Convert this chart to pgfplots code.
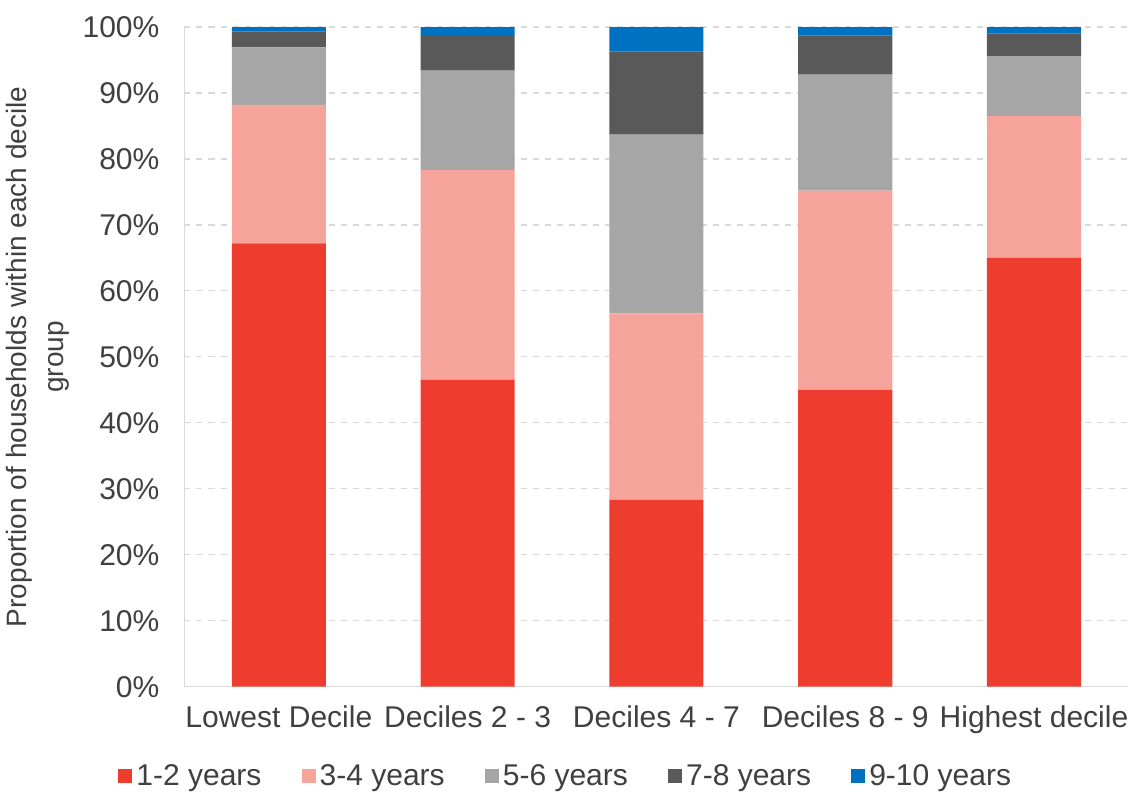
\documentclass[border=0pt]{standalone}
\usepackage{pgfplots}
\pgfplotsset{compat=1.18}
\usepackage{fontspec}
\setmainfont{Liberation Sans}
\definecolor{c1}{HTML}{EE3D2E}
\definecolor{c2}{HTML}{F6A49B}
\definecolor{c3}{HTML}{A6A6A6}
\definecolor{c4}{HTML}{595959}
\definecolor{c5}{HTML}{0070C0}
\definecolor{txt}{HTML}{404040}
\begin{document}
\begin{tikzpicture}
\begin{axis}[
  scale only axis,
  width=471.5pt, height=329.5pt,
  ybar stacked, bar width=47pt,
  xmin=-0.5, xmax=4.5, ymin=0, ymax=100,
  xtick={0,1,2,3,4},
  xticklabels={Lowest Decile,Deciles 2 - 3,Deciles 4 - 7,Deciles 8 - 9,Highest decile},
  ytick={0,10,...,100},
  yticklabel={\pgfmathprintnumber{\tick}\%},
  /pgf/number format/assume math mode=true,
  tick style={draw=none},
  ymajorgrids, grid style={dashed, color=black!15, line width=0.6pt},
  axis line style={draw=black!15, line width=0.8pt},
  axis x line*=bottom, axis y line*=left,
  ticklabel style={font=\fontsize{15}{17}\selectfont, text=txt},
  xticklabel style={yshift=-6pt},
  yticklabel style={xshift=-9pt},
  ylabel={Proportion of households within each decile\\group},
  ylabel style={align=center, font=\fontsize{14}{18}\selectfont, text=txt, yshift=0pt},
  legend style={at={(0.405,-0.105)}, anchor=north, draw=none, legend columns=5,
    font=\fontsize{15}{17}\selectfont, text=txt,
    /tikz/every even column/.append style={column sep=18pt}},
  legend image code/.code={\fill[#1] (0pt,-3.5pt) rectangle (7pt,3.5pt);},
]
\addplot[fill=c1, draw=none] coordinates {(0,67.2) (1,46.5) (2,28.3) (3,45.0) (4,65.0)};
\addplot[fill=c2, draw=none] coordinates {(0,21.0) (1,31.8) (2,28.3) (3,30.2) (4,21.5)};
\addplot[fill=c3, draw=none] coordinates {(0,8.7) (1,15.1) (2,27.1) (3,17.6) (4,9.1)};
\addplot[fill=c4, draw=none] coordinates {(0,2.4) (1,5.2) (2,12.6) (3,5.9) (4,3.4)};
\addplot[fill=c5, draw=none] coordinates {(0,0.7) (1,1.4) (2,3.7) (3,1.3) (4,1.0)};
\legend{1-2 years,3-4 years,5-6 years,7-8 years,9-10 years}
\end{axis}
\path ([yshift=13.5pt]current axis.north);
\end{tikzpicture}
\end{document}
